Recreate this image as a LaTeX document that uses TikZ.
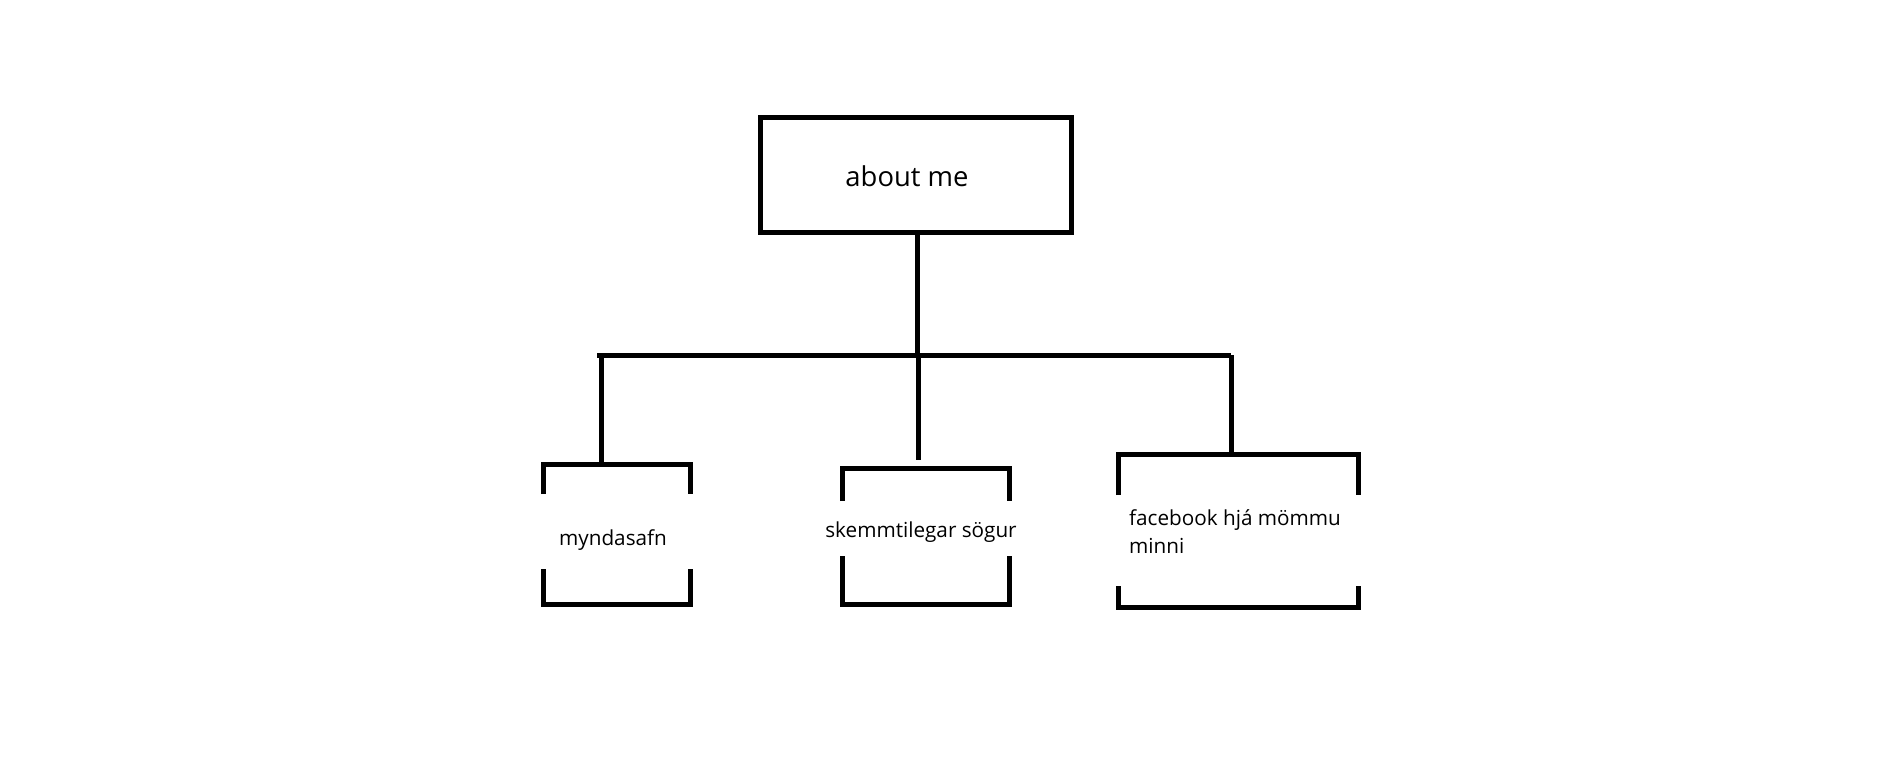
\documentclass[tikz,border=0pt]{standalone}
\usepackage{fontspec}
\setmainfont{Open Sans}
\newcommand\brackbox[3]{%
  \draw[bline] ([yshift=-#2pt]#1.north west) -- (#1.north west) -- (#1.north east) -- ([yshift=-#2pt]#1.north east);
  \draw[bline] ([yshift=#3pt]#1.south west) -- (#1.south west) -- (#1.south east) -- ([yshift=#3pt]#1.south east);
}
\begin{document}
\begin{tikzpicture}[x=1pt,y=-1pt,
  bline/.style={line width=5pt, line join=miter, line cap=butt},
  frame/.style={draw=none, rectangle, inner sep=0pt, outer sep=0pt},
  bigtext/.style={inner sep=0pt, font=\fontsize{27.4}{33}\selectfont},
  smalltext/.style={inner sep=0pt, font=\fontsize{20.7}{28}\selectfont}]
\useasboundingbox (0,0) rectangle (1900,757);
% top box
\node[frame, draw, line width=5pt, minimum width=311pt, minimum height=114pt] (top) at (915.5,175) {};
\node[bigtext, anchor=base] (t0) at (907,186) {about me};
% child boxes
\node[frame, minimum width=147pt, minimum height=140pt] (b1) at (616.5,534) {};
\node[frame, minimum width=167pt, minimum height=136pt] (b2) at (925.5,536) {};
\node[frame, minimum width=240pt, minimum height=153pt] (b3) at (1238,530.5) {};
\brackbox{b1}{30}{35}
\brackbox{b2}{33}{48}
\brackbox{b3}{41}{21}
\node[smalltext, anchor=base] (t1) at (613,545) {myndasafn};
\node[smalltext, anchor=base] (t2) at (921,537) {skemmtilegar sögur};
\node[smalltext, anchor=base west, align=left] (t3) at (1129,553) {facebook hjá mömmu\\minni};
% connectors
\coordinate (hl) at (597,355);
\coordinate (j1) at (601,355);
\coordinate (j2) at (918,355);
\coordinate (j3) at (1231,355);
\draw[bline] ([xshift=1.5pt]top.south) -- ([xshift=1.5pt]top.south |- hl);
\draw[bline] (hl) -- (j3);
\draw[bline] (j1) -- (j1 |- b1.north);
\draw[bline] (j2) -- ([yshift=8pt]j2 |- b2.north);
\draw[bline] (j3) -- (j3 |- b3.north);
\end{tikzpicture}
\end{document}
